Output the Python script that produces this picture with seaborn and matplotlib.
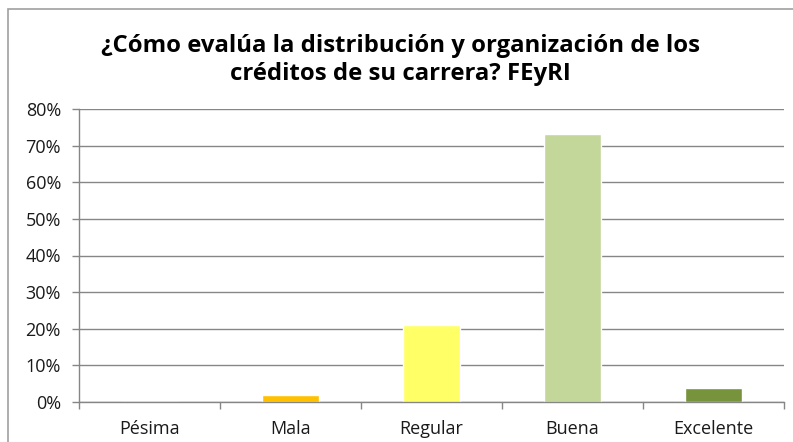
import matplotlib
matplotlib.use("Agg")
import matplotlib.pyplot as plt
import seaborn as sns
import pandas as pd
from matplotlib.patches import Rectangle
from matplotlib.ticker import FuncFormatter, FixedLocator

# Survey answers (share of respondents, %)
categories = ["Pésima", "Mala", "Regular", "Buena", "Excelente"]
percentages = [0.0, 1.92, 21.15, 73.08, 3.85]
bar_colors = ["#4F81BD", "#FFC000", "#FFFF66", "#C4D79B", "#77933C"]
y_ticks = [0, 10, 20, 30, 40, 50, 60, 70, 80]
title = "¿Cómo evalúa la distribución y organización de los\ncréditos de su carrera? FEyRI"

df = pd.DataFrame({"categoria": categories, "porcentaje": percentages})

sns.set_theme(style="white")
plt.rcParams["font.family"] = ["Open Sans", "DejaVu Sans"]

W, H = 793, 442
fig = plt.figure(figsize=(W / 100, H / 100), dpi=100)
ax = fig.add_axes([79 / W, (H - 402) / H, (784 - 79) / W, (402 - 109) / H])

sns.barplot(data=df, x="categoria", y="porcentaje", hue="categoria",
            palette=bar_colors, order=categories, width=0.4,
            legend=False, ax=ax, saturation=1)

ax.set_ylim(0, 80)
ax.set_xlim(-0.5, 4.5)
ax.set_xlabel("")
ax.set_ylabel("")

grid_c = "#868686"
ax.yaxis.set_major_locator(FixedLocator(y_ticks))
ax.yaxis.set_major_formatter(FuncFormatter(lambda v, p: f"{int(v)}%"))
ax.grid(axis="y", color=grid_c, linewidth=1.0)
ax.set_axisbelow(True)

for s in ["top", "right"]:
    ax.spines[s].set_visible(False)
for s in ["left", "bottom"]:
    ax.spines[s].set_color(grid_c)
    ax.spines[s].set_linewidth(1.0)

ax.tick_params(axis="y", which="major", direction="out", length=5,
               width=1, color=grid_c, labelsize=13, labelcolor="#1a1a1a", pad=8,
               left=True)
ax.tick_params(axis="x", which="major", length=0, labelsize=13,
               labelcolor="#1a1a1a", pad=13)
ax.set_xticks([i - 0.5 for i in range(len(categories) + 1)], minor=True)
ax.tick_params(axis="x", which="minor", direction="out", length=5, width=1,
               color=grid_c, bottom=True)

fig.text(0.5 * (1 + 8 / W), 1 - 60 / H, title, ha="center", va="center",
         fontsize=17.2, fontweight="bold", color="#000000", linespacing=1.2)

# chart-area border
fig.patches.append(Rectangle((8 / W, -0.2), 1.2, 1.2 - 9 / H,
                             transform=fig.transFigure, fill=False,
                             edgecolor="#A0A0A0", linewidth=1.2))

fig.savefig("out.png", dpi=100)
